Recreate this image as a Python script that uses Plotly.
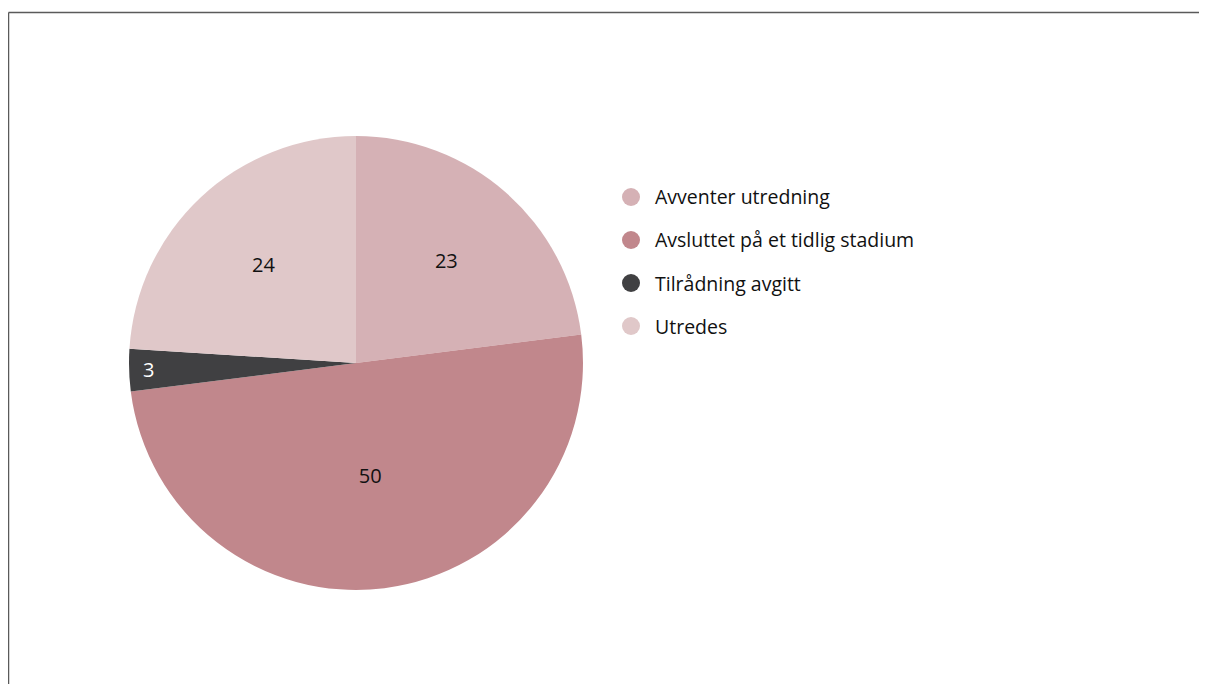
import plotly.graph_objects as go

labels = ["Avventer utredning", "Avsluttet på et tidlig stadium", "Tilrådning avgitt", "Utredes"]
values = [23, 50, 3, 24]
colors = ["#d5b1b5", "#c1878c", "#404042", "#e0c8c9"]
text_colors = ["#111111", "#111111", "#ffffff", "#111111"]

# the page body adds an 8px offset; the figure fills the rest of the window
W, H = 1199, 676
OFF = 8
FONT = "Open Sans"


def px_x(x):
    return (x - OFF) / W


def px_y(y):
    return 1 - (y - OFF) / H


fig = go.Figure()
fig.add_trace(go.Pie(
    labels=labels,
    values=values,
    sort=False,
    direction="clockwise",
    rotation=0,
    marker=dict(colors=colors, line=dict(width=0)),
    textinfo="value",
    textposition="inside",
    insidetextorientation="horizontal",
    insidetextfont=dict(color=text_colors, size=20, family=FONT),
    domain=dict(x=[px_x(129), px_x(583)], y=[px_y(590), px_y(136)]),
    showlegend=False,
    hoverinfo="label+value",
))

shapes = [
    dict(type="line", xref="paper", yref="paper", x0=px_x(8.5), x1=1.02, y0=px_y(12.5), y1=px_y(12.5),
         line=dict(color="#5a5a5a", width=1.5)),
    dict(type="line", xref="paper", yref="paper", x0=px_x(8.5), x1=px_x(8.5), y0=px_y(12.5), y1=-0.05,
         line=dict(color="#5a5a5a", width=1.5)),
]
annotations = []
leg_y0 = 197
leg_dy = 43
r = 9
for i, (lab, col) in enumerate(zip(labels, colors)):
    cy = leg_y0 + i * leg_dy
    shapes.append(dict(type="circle", xref="paper", yref="paper",
                       x0=px_x(631 - r), x1=px_x(631 + r),
                       y0=px_y(cy + r), y1=px_y(cy - r),
                       fillcolor=col, line=dict(width=0)))
    annotations.append(dict(xref="paper", yref="paper", x=px_x(653), y=px_y(cy),
                            xanchor="left", yanchor="middle", showarrow=False,
                            text=lab, font=dict(family=FONT, size=19.5, color="#111111")))

fig.update_layout(
    width=W, height=H,
    margin=dict(l=0, r=0, t=0, b=0),
    paper_bgcolor="#ffffff",
    plot_bgcolor="#ffffff",
    font=dict(family=FONT),
    shapes=shapes,
    annotations=annotations,
)

fig.write_html("out.html")
